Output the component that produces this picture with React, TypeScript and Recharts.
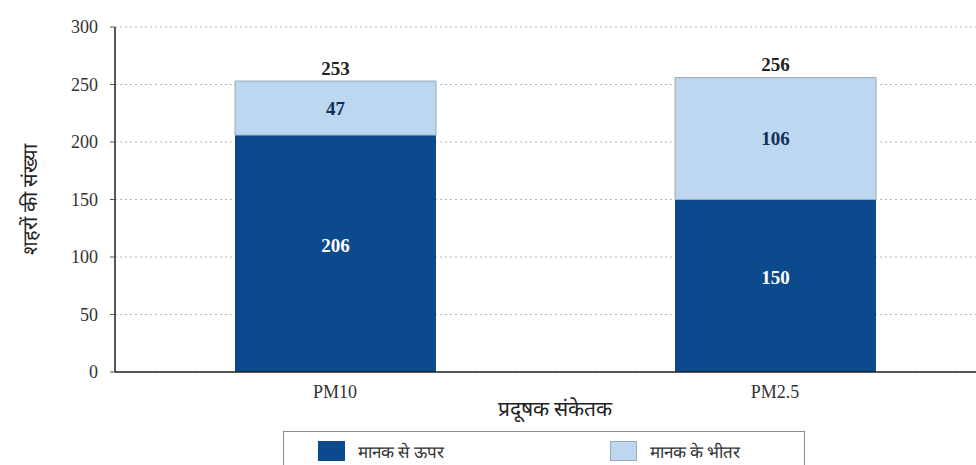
import React from 'react';
import { BarChart, Bar, XAxis, YAxis, CartesianGrid, LabelList } from 'recharts';

const categories = ['PM10', 'PM2.5'];
const aboveStandard = [206, 150];
const withinStandard = [47, 106];
const totals = [253, 256];
const yTicks = [0, 50, 100, 150, 200, 250, 300];

const DARK = '#0B4A8C';
const LIGHT = '#BDD7F1';
const SERIF = '"Liberation Serif", "Times New Roman", serif';

const data = categories.map((c, i) => ({
  name: c,
  above: aboveStandard[i],
  within: withinStandard[i],
  total: totals[i],
}));

const InsideLabel = (color: string, shift: number) => (props: any) => {
  const { x, y, width, height, value } = props;
  return (
    <text x={x + width / 2} y={y + height / 2 + shift} textAnchor="middle" dominantBaseline="central"
      fontFamily={SERIF} fontWeight="bold" fontSize={19} fill={color}>
      {value}
    </text>
  );
};

const TotalLabel = (props: any) => {
  const { x, y, width, index } = props;
  return (
    <text x={x + width / 2} y={y - 13} textAnchor="middle" dominantBaseline="central"
      fontFamily={SERIF} fontWeight="bold" fontSize={19} fill="#222">
      {totals[index]}
    </text>
  );
};

const LegendBox = () => (
  <div style={{
    position: 'absolute', left: 283, top: 431,
    border: '1.5px solid #8a8a8a', width: 522, height: 40, boxSizing: 'border-box',
    display: 'flex', alignItems: 'center', fontFamily: SERIF, fontSize: 17, color: '#333',
  }}>
    <span style={{ width: 27, height: 20, background: DARK, marginLeft: 34, display: 'inline-block' }} />
    <span style={{ marginLeft: 13 }}>मानक से ऊपर</span>
    <span style={{ width: 27, height: 20, background: LIGHT, border: '1px solid #9ab', boxSizing: 'border-box', marginLeft: 166, display: 'inline-block' }} />
    <span style={{ marginLeft: 13 }}>मानक के भीतर</span>
  </div>
);

export default function App() {
  return (
    <div style={{ position: 'absolute', left: 0, top: 0, width: 976, height: 465, overflow: 'hidden', background: '#fff' }}>
      <BarChart width={1000} height={465} data={data}
        margin={{ top: 27, right: 5, left: 0, bottom: 63 }} barSize={201}>
        <CartesianGrid vertical={false} stroke="#b5b5b5" strokeDasharray="2 3" />
        <XAxis dataKey="name" height={30} axisLine={{ stroke: '#222', strokeWidth: 1.5 }} tickLine={false} tickMargin={7}
          tick={{ fontFamily: SERIF, fontSize: 18, fill: '#333' }}
          label={{ value: 'प्रदूषक संकेतक', position: 'bottom', offset: -1, fontSize: 21, fill: '#222', fontFamily: SERIF }} />
        <YAxis width={115} domain={[0, 300]} ticks={yTicks} interval={0}
          axisLine={{ stroke: '#222', strokeWidth: 1.5 }} tickLine={{ stroke: '#555' }} tickSize={5} tickMargin={12}
          tick={{ fontFamily: SERIF, fontSize: 18, fill: '#333' }}
          label={{ value: 'शहरों की संख्या', angle: -90, position: 'insideLeft', offset: 30, fontSize: 20, fill: '#222', fontFamily: SERIF, style: { textAnchor: 'middle' } }} />
        <Bar dataKey="above" stackId="a" fill={DARK} isAnimationActive={false}>
          <LabelList dataKey="above" content={InsideLabel('#ffffff', -8)} />
        </Bar>
        <Bar dataKey="within" stackId="a" fill={LIGHT} stroke="#9aa9b8" strokeWidth={1} isAnimationActive={false}>
          <LabelList dataKey="within" content={InsideLabel('#0E2F55', 0)} />
          <LabelList dataKey="total" content={TotalLabel} />
        </Bar>
      </BarChart>
      <LegendBox />
    </div>
  );
}
